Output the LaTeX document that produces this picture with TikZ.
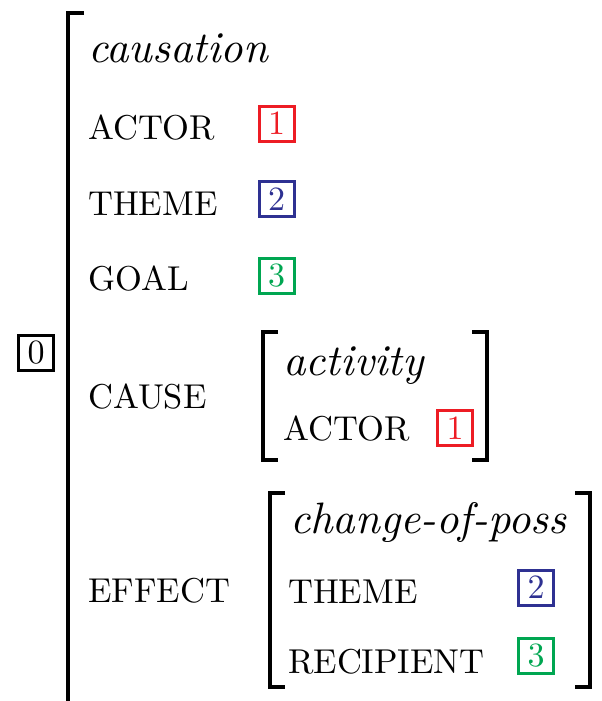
\documentclass[tikz,border=0pt]{standalone}
\usepackage{fontspec}
\setmainfont{lmroman10-regular.otf}[ItalicFont=lmroman10-italic.otf]
\usetikzlibrary{positioning}
\definecolor{tagred}{RGB}{237,28,36}
\definecolor{tagblue}{RGB}{46,49,146}
\definecolor{taggreen}{RGB}{0,166,81}

\begin{document}
\begin{tikzpicture}[x=1pt,y=-1pt,
  feat/.style={anchor=base west,inner sep=0pt,font=\fontsize{34.5}{42}\selectfont},
  type/.style={anchor=base west,inner sep=0pt,font=\fontsize{44}{52}\selectfont\itshape},
  tag/.style={draw,line width=3pt,minimum width=35pt,minimum height=35pt,inner sep=0pt,font=\fontsize{34}{40}\selectfont},
  brack/.style={line width=4pt}]
\useasboundingbox (0,0) rectangle (602,701);

% outer matrix
\node[tag] (t0) at (36,353) {0};
\node[type] (caus) at (88,63) {causation};
\node[feat] (actor) at (88,139) {ACTOR};
\node[feat] (theme) at (88,215) {THEME};
\node[feat] (goal) at (88,290) {GOAL};
\node[feat] (cause) at (88,408) {CAUSE};
\node[feat] (effect) at (88,602) {EFFECT};
\node[tag,tagred] (t1) at (276.5,123.5) {1};
\node[tag,tagblue] (t2) at (276.5,199) {2};
\node[tag,taggreen] (t3) at (276.5,275.5) {3};
\draw[brack] (84,13) -- (68,13) -- (68,701);

% cause
\node[type] (act) at (283,375) {activity};
\node[feat] (cactor) at (283,440) {ACTOR};
\node[tag,tagred] (ct1) at (455,428) {1};
\draw[brack] (278,332) -- (263,332) -- (263,460) -- (278,460);
\draw[brack] (472,332) -- (487,332) -- (487,460) -- (472,460);

% effect
\node[type] (poss) at (290,533) {change-of-poss};
\node[feat] (etheme) at (288,603) {THEME};
\node[feat] (recip) at (288,673) {RECIPIENT};
\node[tag,tagblue] (et2) at (536,587.5) {2};
\node[tag,taggreen] (et3) at (536,656) {3};
\draw[brack] (285,493) -- (270,493) -- (270,687) -- (285,687);
\draw[brack] (575,493) -- (590,493) -- (590,687) -- (575,687);
\end{tikzpicture}
\end{document}
